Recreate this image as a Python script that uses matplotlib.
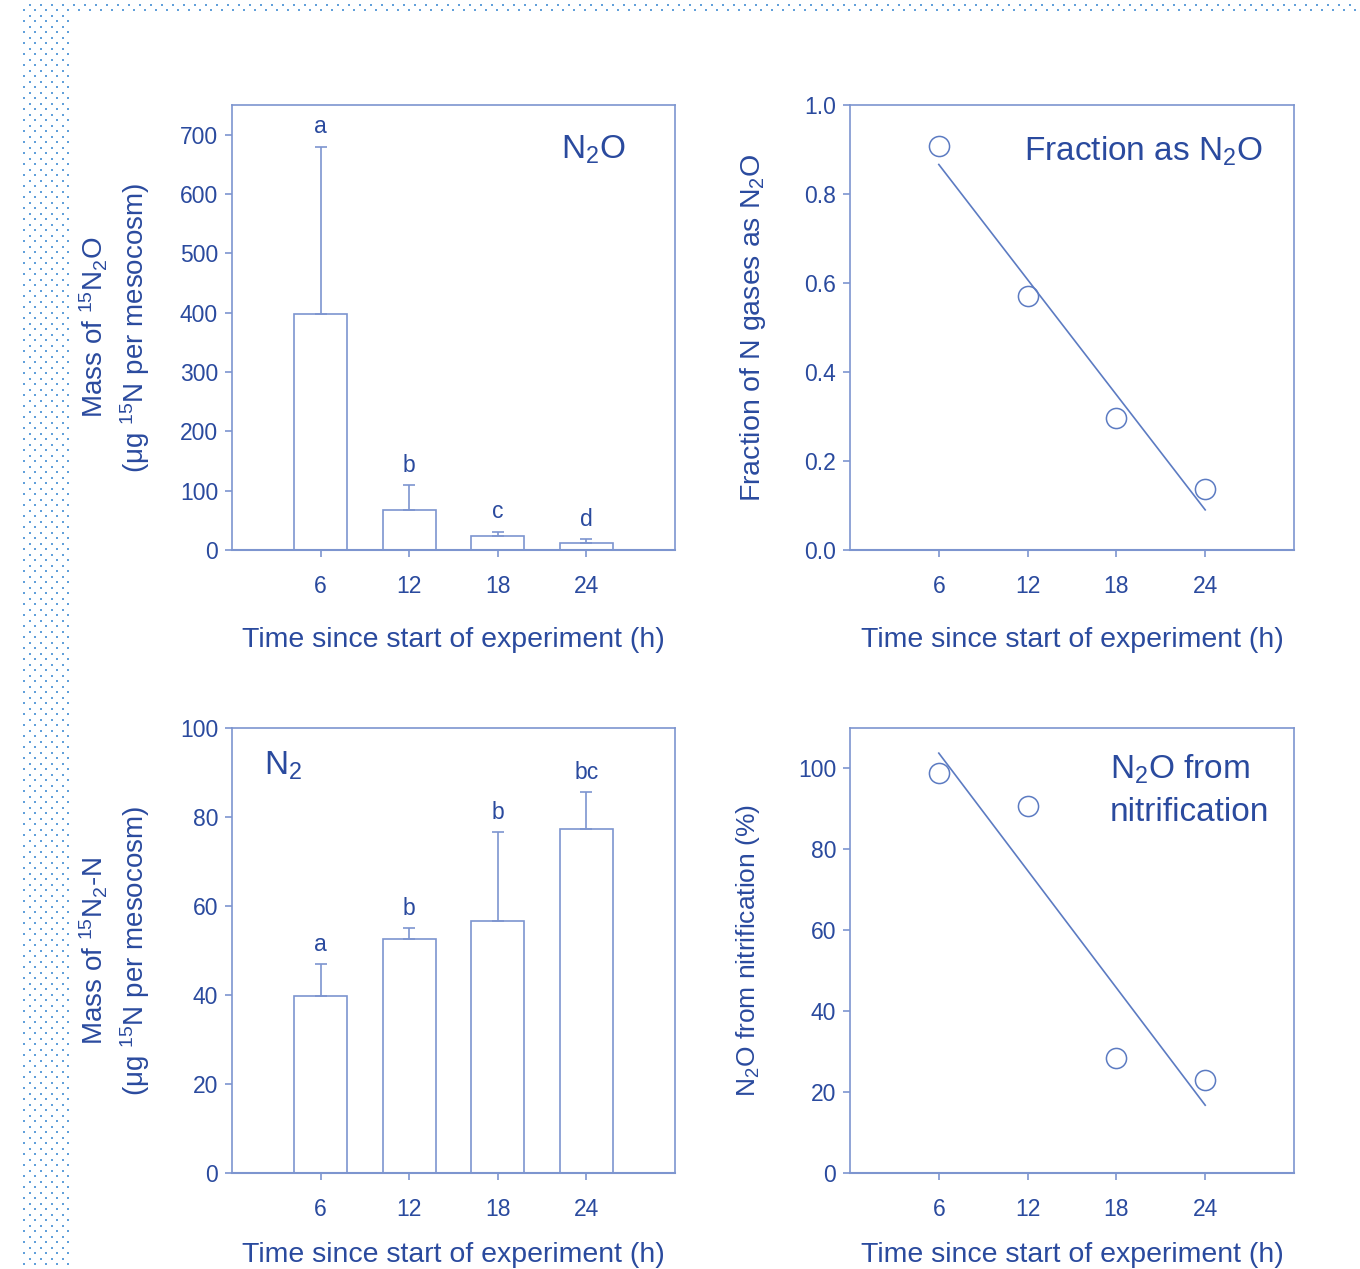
import numpy as np
import matplotlib
matplotlib.use("Agg")
import matplotlib.pyplot as plt

plt.rcParams['font.family'] = ['Liberation Sans', 'DejaVu Sans']
plt.rcParams['mathtext.default'] = 'regular'

# ---- data ----
hours = [6, 12, 18, 24]
n2o_mass = [397, 68, 23, 11]
n2o_err = [283, 41, 8, 7]
n2o_letters = ['a', 'b', 'c', 'd']

n2_mass = [39.8, 52.6, 56.6, 77.3]
n2_err = [7.2, 2.4, 20.0, 8.3]
n2_letters = ['a', 'b', 'b', 'bc']

frac_n2o = [0.908, 0.571, 0.297, 0.137]
nitrif_pct = [99.0, 90.6, 28.5, 23.0]

xticks = [6, 12, 18, 24]

TXT = '#2a4a9e'
AX = '#7d95cf'
LN = '#5c7bc2'

W, H = 1360, 1269
fig = plt.figure(figsize=(W / 100, H / 100), dpi=100)

# decorative dotted border (background pattern)
bg = fig.add_axes([0, 0, 1, 1], zorder=-10)
bg.set_xlim(0, W)
bg.set_ylim(H, 0)
bg.axis('off')
rows = np.arange(-1, H + 6, 5.5)
pts_x, pts_y = [], []
for i, yy in enumerate(rows):
    off = 24.3 if i % 2 == 0 else 29.8
    xmax = W if yy < 12 else 72
    xs = np.arange(off, xmax, 11)
    pts_x.extend(xs)
    pts_y.extend([yy] * len(xs))
bg.scatter(pts_x, pts_y, s=3.6, marker='s', color='#62a0da', linewidths=0)


def px_axes(l, t, r, b):
    return fig.add_axes([l / W, 1 - b / H, (r - l) / W, (b - t) / H])


def style(ax, xlabelpad=21):
    for s in ax.spines.values():
        s.set_color(AX)
        s.set_linewidth(1.2)
    ax.spines['bottom'].set_linewidth(1.5)
    ax.tick_params(colors=AX, labelcolor=TXT, labelsize=16.5, direction='out',
                   length=5, width=1.2, pad=5)
    ax.set_xlim(0, 30)
    ax.set_xticks(xticks)
    ax.set_xticklabels([str(v) for v in xticks])
    ax.tick_params(axis='x', pad=13)
    ax.set_xlabel('Time since start of experiment (h)', fontsize=20.5,
                  color=TXT, labelpad=xlabelpad)


axes_box = {
    'tl': (232, 105, 675, 550),
    'tr': (850, 105, 1294, 550),
    'bl': (232, 728, 675, 1173),
    'br': (850, 728, 1294, 1173),
}

# ---- top-left: N2O bars ----
ax1 = px_axes(*axes_box['tl'])
style(ax1)
ax1.bar(hours, n2o_mass, width=3.6, color='white', edgecolor=AX, linewidth=1.2,
        yerr=[[0] * 4, n2o_err], capsize=4.5,
        error_kw=dict(ecolor=AX, elinewidth=1.2, capthick=1.2))
for x, m, e, l in zip(hours, n2o_mass, n2o_err, n2o_letters):
    ax1.annotate(l, (x, m + e), xytext=(0, 6), textcoords='offset points',
                 ha='center', va='bottom', fontsize=16.5, color=TXT)
ax1.set_ylim(0, 750)
ax1.set_yticks(range(0, 701, 100))
ax1.text(0.815, 0.9, 'N$_2$O', transform=ax1.transAxes, fontsize=24,
         color=TXT, ha='center', va='center')
ax1.set_ylabel('Mass of $^{15}$N$_2$O\n(μg $^{15}$N per mesocosm)',
               fontsize=20, color=TXT, labelpad=20, linespacing=1.32)

# ---- top-right: fraction ----
ax2 = px_axes(*axes_box['tr'])
style(ax2)
ax2.set_ylim(0, 1.0)
ax2.set_yticks(np.arange(0, 1.01, 0.2))
ax2.set_yticklabels(['0.0', '0.2', '0.4', '0.6', '0.8', '1.0'])
c2 = np.polyfit(hours, frac_n2o, 1)
ax2.plot([hours[0], hours[-1]], np.polyval(c2, [hours[0], hours[-1]]),
         color=LN, linewidth=1.2)
ax2.plot(hours, frac_n2o, 'o', markersize=14.5, markerfacecolor='none',
         markeredgecolor=LN, markeredgewidth=1.1)
ax2.text(0.66, 0.895, 'Fraction as N$_2$O', transform=ax2.transAxes,
         fontsize=24, color=TXT, ha='center', va='center')
ax2.set_ylabel('Fraction of N gases as N$_2$O', fontsize=20.5, color=TXT,
               labelpad=26)

# ---- bottom-left: N2 bars ----
ax3 = px_axes(*axes_box['bl'])
style(ax3, xlabelpad=15)
ax3.bar(hours, n2_mass, width=3.6, color='white', edgecolor=AX, linewidth=1.2,
        yerr=[[0] * 4, n2_err], capsize=4.5,
        error_kw=dict(ecolor=AX, elinewidth=1.2, capthick=1.2))
for x, m, e, l in zip(hours, n2_mass, n2_err, n2_letters):
    ax3.annotate(l, (x, m + e), xytext=(0, 6), textcoords='offset points',
                 ha='center', va='bottom', fontsize=16.5, color=TXT)
ax3.set_ylim(0, 100)
ax3.set_yticks(range(0, 101, 20))
ax3.text(0.115, 0.915, 'N$_2$', transform=ax3.transAxes, fontsize=24,
         color=TXT, ha='center', va='center')
ax3.set_ylabel('Mass of $^{15}$N$_2$-N\n(μg $^{15}$N per mesocosm)',
               fontsize=20, color=TXT, labelpad=20, linespacing=1.32)

# ---- bottom-right: nitrification ----
ax4 = px_axes(*axes_box['br'])
style(ax4, xlabelpad=15)
ax4.set_ylim(0, 110)
ax4.set_yticks(range(0, 101, 20))
c4 = np.polyfit(hours, nitrif_pct, 1)
ax4.plot([hours[0], hours[-1]], np.polyval(c4, [hours[0], hours[-1]]),
         color=LN, linewidth=1.2)
ax4.plot(hours, nitrif_pct, 'o', markersize=14.5, markerfacecolor='none',
         markeredgecolor=LN, markeredgewidth=1.1)
ax4.text(0.586, 0.945, 'N$_2$O from\nnitrification', transform=ax4.transAxes,
         fontsize=24, color=TXT, ha='left', va='top', linespacing=1.45)
ax4.set_ylabel('N$_2$O from nitrification (%)', fontsize=19, color=TXT,
               labelpad=26)

fig.savefig('out.png', dpi=100, facecolor='white')
